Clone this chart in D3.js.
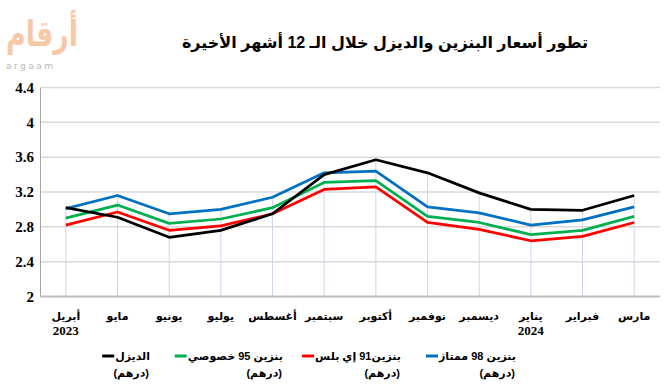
<!DOCTYPE html>
<html>
<head>
<meta charset="utf-8">
<script src="https://cdn.jsdelivr.net/npm/d3@7"></script>
<style>
  body { margin: 0; background: #fff; }
  svg { display: block; }
</style>
</head>
<body>
<div id="chart"></div>
<script>
// Fuel prices, UAE, last 12 months (AED)
const months = ['أبريل', 'مايو', 'يونيو', 'يوليو', 'أغسطس', 'سبتمبر', 'أكتوبر', 'نوفمبر', 'ديسمبر', 'يناير', 'فبراير', 'مارس'];
const yearLabels = ['2023', '', '', '', '', '', '', '', '', '2024', '', ''];
const yTicks = [2, 2.4, 2.8, 3.2, 3.6, 4, 4.4];

const diesel    = [3.02, 2.91, 2.68, 2.76, 2.95, 3.40, 3.57, 3.42, 3.19, 3.00, 2.99, 3.16];
const special95 = [2.90, 3.05, 2.84, 2.89, 3.02, 3.31, 3.33, 2.92, 2.85, 2.71, 2.76, 2.92];
const eplus91   = [2.82, 2.97, 2.76, 2.81, 2.95, 3.23, 3.26, 2.85, 2.77, 2.64, 2.69, 2.85];
const super98   = [3.01, 3.16, 2.95, 3.00, 3.14, 3.42, 3.44, 3.03, 2.96, 2.82, 2.88, 3.03];

const seriesNames = ['الديزل', 'بنزين 95  خصوصي', 'بنزين91 إي بلس', 'بنزين 98 ممتاز'];
const seriesColors = ['#000000', '#00b050', '#ff0000', '#0070c0'];
const seriesValues = [diesel, special95, eplus91, super98];

const width = 665, height = 388;
const margin = { left: 40, right: 5, top: 87.5, bottom: 91.5 };

const svg = d3.select('#chart').append('svg')
    .attr('width', width)
    .attr('height', height);

const x = d3.scalePoint()
    .domain(months)
    .range([margin.left, width - margin.right])
    .padding(0.5);

const y = d3.scaleLinear()
    .domain([2, 4.4])
    .range([height - margin.bottom, margin.top]);

// Logo
svg.append('text')
    .attr('x', 6).attr('y', 46)
    .attr('direction', 'ltr')
    .attr('font-family', 'DejaVu Sans, sans-serif')
    .attr('font-size', 36)
    .attr('font-weight', 'bold')
    .attr('fill', '#f6c8a6')
    .attr('textLength', 72)
    .attr('lengthAdjust', 'spacingAndGlyphs')
    .text('أرقام');
svg.append('text')
    .attr('x', 6).attr('y', 69)
    .attr('font-family', 'DejaVu Sans, sans-serif')
    .attr('font-size', 9)
    .attr('letter-spacing', 2.5)
    .attr('fill', '#b8b8b8')
    .text('argaam');

// Title
svg.append('text')
    .attr('x', 385).attr('y', 48)
    .attr('text-anchor', 'middle')
    .attr('direction', 'rtl')
    .attr('font-family', 'Arial, DejaVu Sans, sans-serif')
    .attr('font-size', 16)
    .attr('font-weight', 'bold')
    .attr('fill', '#000')
    .text('تطور أسعار البنزين والديزل خلال الـ 12 أشهر الأخيرة');

// Horizontal gridlines
svg.selectAll('.grid')
    .data(yTicks.filter(d => d > 2))
    .enter().append('line')
    .attr('x1', margin.left).attr('x2', width - margin.right)
    .attr('y1', d => y(d)).attr('y2', d => y(d))
    .attr('stroke', '#d9d9d9')
    .attr('stroke-width', 1.5);

// Y axis
const yAxis = svg.append('g')
    .attr('transform', `translate(${margin.left},0)`)
    .call(d3.axisLeft(y).tickValues(yTicks).tickSize(0).tickPadding(6).tickFormat(d3.format('')));
yAxis.select('.domain').attr('stroke', '#a6a6a6').attr('stroke-width', 1);
yAxis.selectAll('text')
    .attr('font-family', 'Liberation Serif, Times New Roman, serif')
    .attr('font-size', 15)
    .attr('font-weight', 'bold')
    .attr('fill', '#000');

// Drop lines from the highest point of each month
svg.selectAll('.drop')
    .data(months)
    .enter().append('line')
    .attr('x1', d => x(d)).attr('x2', d => x(d))
    .attr('y1', (d, i) => y(d3.max(seriesValues, s => s[i])))
    .attr('y2', y(2))
    .attr('stroke', '#ccd6ea')
    .attr('stroke-width', 1);

// X axis
const xAxis = svg.append('g')
    .attr('transform', `translate(0,${y(2)})`)
    .call(d3.axisBottom(x).tickSize(0).tickPadding(0).tickFormat(() => ''));
xAxis.select('.domain')
    .attr('d', `M${margin.left},0H${width - margin.right}`)
    .attr('stroke', '#bfbfbf')
    .attr('stroke-width', 2);

svg.selectAll('.month-label')
    .data(months)
    .enter().append('text')
    .attr('x', d => x(d)).attr('y', 320)
    .attr('text-anchor', 'middle')
    .attr('font-family', 'Arial, DejaVu Sans, sans-serif')
    .attr('font-size', 11)
    .attr('font-weight', 'bold')
    .attr('fill', '#000')
    .text(d => d);

svg.selectAll('.year-label')
    .data(yearLabels)
    .enter().append('text')
    .attr('x', (d, i) => x(months[i])).attr('y', 335)
    .attr('text-anchor', 'middle')
    .attr('font-family', 'Liberation Serif, Times New Roman, serif')
    .attr('font-size', 13)
    .attr('font-weight', 'bold')
    .attr('fill', '#000')
    .text(d => d);

// Lines (draw order as in reference: blue, green, red, black on top)
const line = d3.line()
    .x((d, i) => x(months[i]))
    .y(d => y(d));

[3, 1, 2, 0].forEach(k => {
    svg.append('path')
        .datum(seriesValues[k])
        .attr('d', line)
        .attr('fill', 'none')
        .attr('stroke', seriesColors[k])
        .attr('stroke-width', 2.75)
        .attr('stroke-linejoin', 'round');
});

// Legend
const legendRight = [150, 283, 401, 516];
const legend = svg.selectAll('.legend')
    .data(seriesNames)
    .enter().append('g')
    .attr('class', 'legend');

legend.append('text')
    .attr('x', (d, i) => legendRight[i]).attr('y', 360)
    .attr('direction', 'rtl')
    .attr('text-anchor', 'start')
    .attr('font-family', 'Arial, DejaVu Sans, sans-serif')
    .attr('font-size', 11)
    .attr('font-weight', 'bold')
    .attr('fill', '#000')
    .text(d => d);

legend.append('text')
    .attr('x', (d, i) => legendRight[i] - 1).attr('y', 377)
    .attr('direction', 'rtl')
    .attr('text-anchor', 'start')
    .attr('font-family', 'Arial, DejaVu Sans, sans-serif')
    .attr('font-size', 11)
    .attr('font-weight', 'bold')
    .attr('fill', '#000')
    .text('(درهم)');

legend.each(function(d, i) {
    const t = d3.select(this).select('text').node();
    const w = t.getComputedTextLength();
    const x0 = legendRight[i] - w - 13;
    d3.select(this).append('line')
        .attr('x1', x0).attr('x2', x0 + 12)
        .attr('y1', 356).attr('y2', 356)
        .attr('stroke', seriesColors[i])
        .attr('stroke-width', 3);
});
</script>
</body>
</html>
